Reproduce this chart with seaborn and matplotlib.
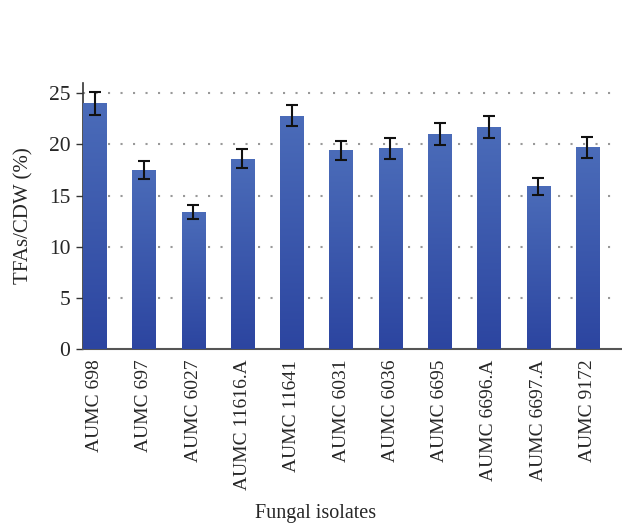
import seaborn as sns
import matplotlib.pyplot as plt
import numpy as np
import pandas as pd
from matplotlib.colors import LinearSegmentedColormap

# Data
isolates = ['AUMC 698', 'AUMC 697', 'AUMC 6027', 'AUMC 11616.A', 'AUMC 11641',
            'AUMC 6031', 'AUMC 6036', 'AUMC 6695', 'AUMC 6696.A', 'AUMC 6697.A', 'AUMC 9172']
tfa = [24.0, 17.5, 13.4, 18.6, 22.8, 19.4, 19.6, 21.0, 21.7, 15.9, 19.7]
err = [1.1, 0.9, 0.65, 0.9, 1.05, 0.97, 1.0, 1.05, 1.05, 0.8, 1.0]

df = pd.DataFrame({'isolate': isolates, 'tfa': tfa, 'err': err})

sns.set_style('white')
plt.rcParams['font.family'] = ['Liberation Serif', 'DejaVu Serif']

fig = plt.figure(figsize=(6.22, 5.24), dpi=100)
ax = fig.add_axes([0.1334, 0.3334, 0.8666, 0.5086])

sns.barplot(data=df, x='isolate', y='tfa', color='#3b58aa', width=0.47,
            errorbar=None, ax=ax, zorder=3)

# gradient fill on each bar
cmap = LinearSegmentedColormap.from_list('bar', ['#2c45a0', '#4b6cb9'])
grad = np.linspace(0, 1, 256).reshape(-1, 1)
for p in ax.patches:
    x0, y0 = p.get_x(), p.get_y()
    w, h = p.get_width(), p.get_height()
    im = ax.imshow(grad, cmap=cmap, aspect='auto', origin='lower',
                   extent=[x0, x0 + w, y0, y0 + h], zorder=3)
    im.set_clip_path(p)
    p.set_facecolor('none')
    p.set_edgecolor('none')

ax.errorbar(range(len(isolates)), df['tfa'], yerr=df['err'], fmt='none',
            ecolor='#111111', elinewidth=1.5, capsize=4, capthick=1.5, zorder=4)

ax.set_xlim(-0.235, 10.7)
ax.set_ylim(0, 26)
ax.set_yticks([0, 5, 10, 15, 20, 25])
for yv in [5, 10, 15, 20, 25]:
    ax.axhline(yv, xmax=0.988, color='#999999', lw=1.5, linestyle=(0, (1, 5)), zorder=1)

for s in ['top', 'right']:
    ax.spines[s].set_visible(False)
ax.spines['left'].set_color('#333333')
ax.spines['bottom'].set_color('#555555')
ax.spines['left'].set_linewidth(1.2)
ax.spines['bottom'].set_linewidth(1.5)

ax.tick_params(axis='y', which='major', left=True, length=5, width=1, color='#333333',
               labelsize=15.5, pad=4)
ax.tick_params(axis='x', bottom=False, labelsize=14, pad=4)
plt.setp(ax.get_xticklabels(), rotation=90)

ax.set_xlabel('Fungal isolates', fontsize=14.5, labelpad=10, x=0.432)
ax.set_ylabel('TFAs/CDW (%)', fontsize=15, labelpad=11)

fig.savefig('out.png', dpi=100)
